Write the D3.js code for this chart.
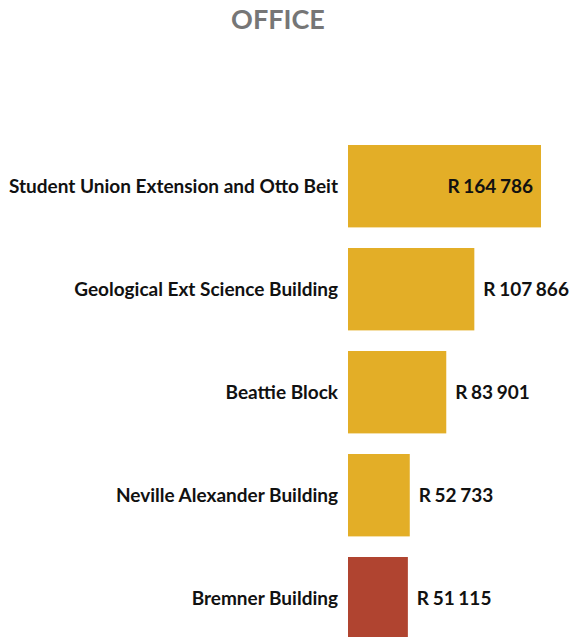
<!DOCTYPE html>
<html><head><meta charset="utf-8">
<script src="https://cdn.jsdelivr.net/npm/d3@7"></script>
<style>body{margin:0;background:#fff}svg{display:block}</style>
</head><body>
<script>
const categories = ["Student Union Extension and Otto Beit","Geological Ext Science Building","Beattie Block","Neville Alexander Building","Bremner Building"];
const values = [164786,107866,83901,52733,51115];
const barColors = ["#E3AE27","#E3AE27","#E3AE27","#E3AE27","#B04430"];
const valueLabels = ["R 164 786","R 107 866","R 83 901","R 52 733","R 51 115"];
const title = "OFFICE";

const W=571,H=637;
const svg=d3.select("body").append("svg").attr("width",W).attr("height",H);
const font="Lato, sans-serif";
svg.append("text").attr("x",278).attr("y",29).attr("text-anchor","middle")
  .attr("font-family",font).attr("font-weight","bold").attr("font-size",27).attr("fill","#767676").text(title);

const step=103, pin=0.2;
const y=d3.scaleBand().domain(categories).paddingInner(pin).paddingOuter(0.1)
  .range([145-0.1*step,145-0.1*step+step*5]);
const x=d3.scaleLinear().domain([0,164786]).range([348,541]);

const g=svg.append("g");
g.selectAll("rect").data(categories).join("rect")
  .attr("x",x(0)).attr("y",d=>y(d)).attr("width",(d,i)=>x(values[i])-x(0))
  .attr("height",y.bandwidth()).attr("fill",(d,i)=>barColors[i]);

g.selectAll("text.cat").data(categories).join("text").attr("class","cat")
  .attr("x",338).attr("y",d=>y(d)+y.bandwidth()/2).attr("dy","0.35em")
  .attr("text-anchor","end").attr("font-family",font).attr("font-weight","bold")
  .attr("font-size",19).attr("fill","#111").text(d=>d);

g.selectAll("text.val").data(categories).join("text").attr("class","val")
  .attr("x",(d,i)=> i===0 ? x(values[i])-8 : x(values[i])+9)
  .attr("y",d=>y(d)+y.bandwidth()/2).attr("dy","0.35em")
  .attr("text-anchor",(d,i)=>i===0?"end":"start")
  .attr("font-family",font).attr("font-weight","bold").attr("word-spacing",-1)
  .attr("font-size",19).attr("fill","#111").text((d,i)=>valueLabels[i]);
</script>
</body></html>
